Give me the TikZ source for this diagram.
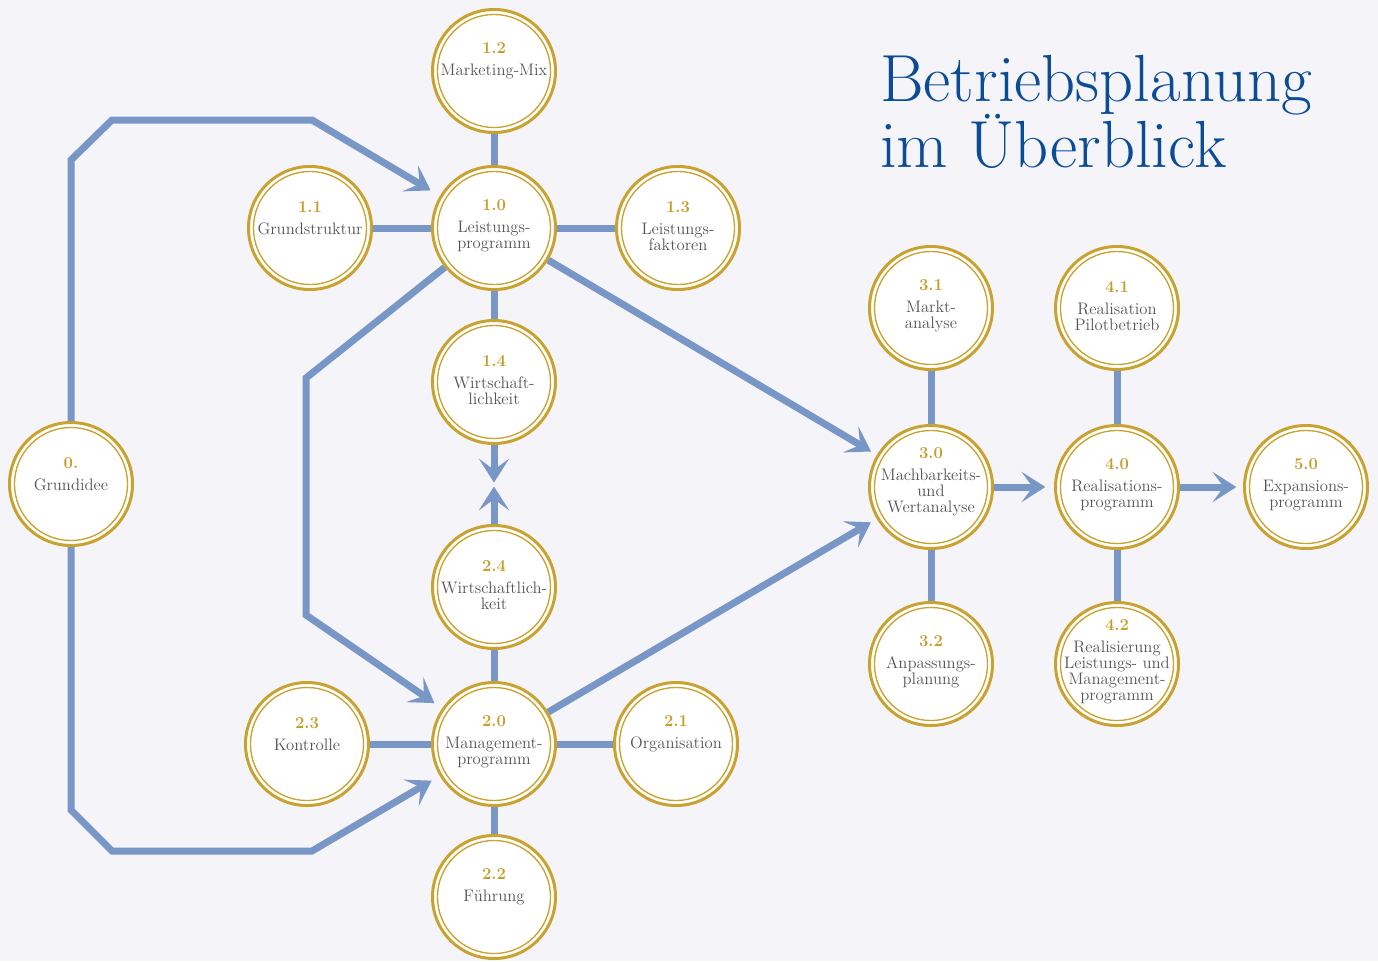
\documentclass[tikz,border=0pt]{standalone}
\usepackage{tikz}
\usetikzlibrary{arrows.meta,calc}
\definecolor{bgcol}{RGB}{244,244,249}
\definecolor{linkcol}{RGB}{120,150,198}
\definecolor{goldcol}{RGB}{201,162,48}
\definecolor{numcol}{RGB}{196,158,44}
\definecolor{txtcol}{RGB}{85,85,85}
\definecolor{titlecol}{RGB}{12,76,150}
\newcommand{\nr}[1]{{\bfseries\color{numcol}#1}\\[4.5pt]}

\begin{document}
\begin{tikzpicture}[x=0.75pt,y=-0.75pt,
  plan/.style={circle,draw=goldcol,line width=2.25pt,fill=white,inner sep=0pt,
    minimum size=92.25pt,
    path picture={\draw[goldcol,line width=1pt] (path picture bounding box.center) circle (42.4pt);}},
  txt/.style={align=center,text=txtcol,font=\fontsize{12.5}{12}\selectfont,yshift=1.5pt,inner sep=0pt},
  one/.style={txt,yshift=6pt},
  link/.style={draw=linkcol,line width=5.25pt},
  arr/.style={link,-{Stealth[length=18pt,width=23pt,inset=8.5pt,line width=0pt]},shorten >=6pt},
  titletext/.style={text=titlecol,font=\fontsize{50}{50}\selectfont,inner sep=0pt}]
\fill[bgcol] (0,0) rectangle (1378,961);
\useasboundingbox (0,0) rectangle (1378,961);
% title
\node[titletext,anchor=base west] (title1) at (880,101) {Betriebsplanung};
\node[titletext,anchor=base west] (title2) at ([yshift=-49.5pt]title1.base west) {im Überblick};
% idea
\node[plan,label={[one]center:{\nr{0.}Grundidee}}] (n00) at (71,484) {};
% 1.x
\node[plan,label={[one]center:{\nr{1.2}Marketing-Mix}}] (n12) at (494,71) {};
\node[plan,label={[one]center:{\nr{1.1}Grundstruktur}}] (n11) at (310,228) {};
\node[plan,label={[txt]center:{\nr{1.0}Leistungs-\\programm}}] (n10) at (494,228) {};
\node[plan,label={[txt]center:{\nr{1.3}Leistungs-\\faktoren}}] (n13) at (678,228) {};
\node[plan,label={[txt]center:{\nr{1.4}Wirtschaft-\\lichkeit}}] (n14) at (494,382) {};
% 2.x
\node[plan,label={[txt]center:{\nr{2.4}Wirtschaftlich-\\keit}}] (n24) at (494,587) {};
\node[plan,label={[one]center:{\nr{2.3}Kontrolle}}] (n23) at (307,744) {};
\node[plan,label={[txt]center:{\nr{2.0}Management-\\programm}}] (n20) at (494,744) {};
\node[plan,label={[one]center:{\nr{2.1}Organisation}}] (n21) at (676,744) {};
\node[plan,label={[one]center:{\nr{2.2}Führung}}] (n22) at (494,897) {};
% 3.x
\node[plan,label={[txt]center:{\nr{3.1}Markt-\\analyse}}] (n31) at (931,308) {};
\node[plan,label={[txt,yshift=2.5pt]center:{\nr{3.0}Machbarkeits-\\und\\Wertanalyse}}] (n30) at (931,487) {};
\node[plan,label={[txt]center:{\nr{3.2}Anpassungs-\\planung}}] (n32) at (931,664) {};
% 4.x / 5.0
\node[plan,label={[txt]center:{\nr{4.1}Realisation\\Pilotbetrieb}}] (n41) at (1117,308) {};
\node[plan,label={[txt]center:{\nr{4.0}Realisations-\\programm}}] (n40) at (1117,487) {};
\node[plan,label={[txt]center:{\nr{4.2}Realisierung\\Leistungs- und\\Management-\\programm}}] (n42) at (1117,664) {};
\node[plan,label={[txt]center:{\nr{5.0}Expansions-\\programm}}] (n50) at (1306,487) {};
\coordinate (meet) at ($(n14)!0.5!(n24)$);
% plain links
\draw[link] (n12) -- (n10);
\draw[link] (n11) -- (n10);
\draw[link] (n10) -- (n13);
\draw[link] (n10) -- (n14);
\draw[link] (n24) -- (n20);
\draw[link] (n23) -- (n20);
\draw[link] (n20) -- (n21);
\draw[link] (n20) -- (n22);
\draw[link] (n31) -- (n30);
\draw[link] (n30) -- (n32);
\draw[link] (n41) -- (n40);
\draw[link] (n40) -- (n42);
% arrows
\draw[arr,shorten >=8pt] (n00.north) -- ++(0,-261) -- ++(41,-40) -- ++(200,0) -- (n10);
\draw[arr,shorten >=7pt] (n00.south) -- ++(0,263) -- ++(41,41) -- ++(200,0) -- (n20);
\draw[arr,shorten >=7pt] (n10) -- (306,378) -- (306,615) -- (n20);
\draw[arr,shorten >=5pt] (n10) -- (n30);
\draw[arr,shorten >=5pt] (n20) -- (n30);
\draw[arr,shorten >=6.5pt] (n30) -- (n40);
\draw[arr,shorten >=5pt] (n40) -- (n50);
\draw[arr,shorten >=1.5pt] (n14) -- (meet);
\draw[arr,shorten >=1.5pt] (n24) -- (meet);
\end{tikzpicture}
\end{document}
